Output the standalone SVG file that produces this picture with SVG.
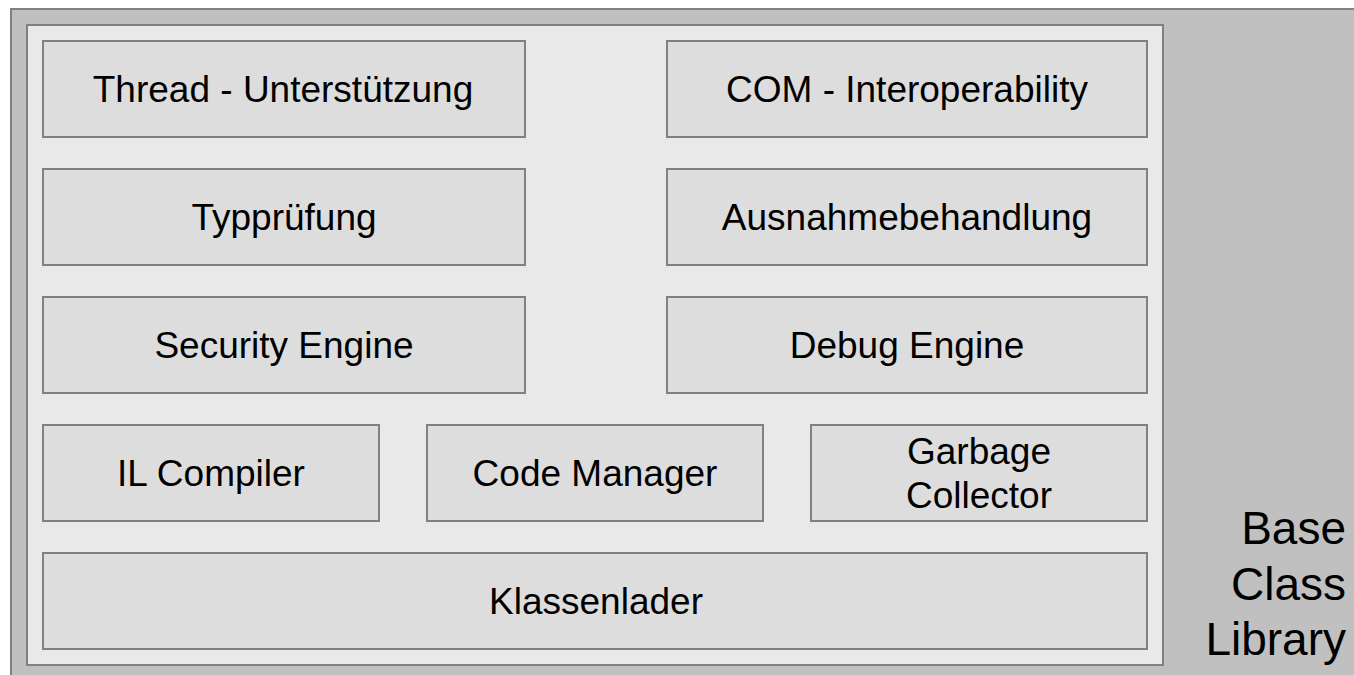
<svg xmlns="http://www.w3.org/2000/svg" width="1354" height="675" viewBox="0 0 1354 675">
<style>
.outer{fill:#c0c0c0;stroke:#808080;stroke-width:2}
.inner{fill:#e9e9e9;stroke:#808080;stroke-width:2}
.box{fill:#dddddd;stroke:#808080;stroke-width:2}
text{font-family:"Liberation Sans",Arial,sans-serif;fill:#000}
.lbl{font-size:37px;text-anchor:middle}
.bcl{font-size:46px;text-anchor:end}
</style>
<rect width="1354" height="675" fill="#ffffff"/>
<g id="base-class-library">
<rect class="outer" x="11" y="9" width="1360" height="700"/>
<text class="bcl" x="1346" y="544">Base</text>
<text class="bcl" x="1346" y="600">Class</text>
<text class="bcl" x="1346" y="655">Library</text>
</g>
<g id="clr">
<rect class="inner" x="27" y="25" width="1136" height="640"/>
</g>
<g id="thread"><rect class="box" x="43" y="41" width="482" height="96"/><text class="lbl" x="283" y="102">Thread - Unterstützung</text></g>
<g id="com"><rect class="box" x="667" y="41" width="480" height="96"/><text class="lbl" x="907" y="102">COM - Interoperability</text></g>
<g id="typ"><rect class="box" x="43" y="169" width="482" height="96"/><text class="lbl" x="284" y="230">Typprüfung</text></g>
<g id="ausnahme"><rect class="box" x="667" y="169" width="480" height="96"/><text class="lbl" x="907" y="230">Ausnahmebehandlung</text></g>
<g id="security"><rect class="box" x="43" y="297" width="482" height="96"/><text class="lbl" x="284" y="358">Security Engine</text></g>
<g id="debug"><rect class="box" x="667" y="297" width="480" height="96"/><text class="lbl" x="907" y="358">Debug Engine</text></g>
<g id="il"><rect class="box" x="43" y="425" width="336" height="96"/><text class="lbl" x="211" y="486">IL Compiler</text></g>
<g id="code"><rect class="box" x="427" y="425" width="336" height="96"/><text class="lbl" x="595" y="486">Code Manager</text></g>
<g id="gc"><rect class="box" x="811" y="425" width="336" height="96"/><text class="lbl" x="979" y="464">Garbage</text><text class="lbl" x="979" y="508">Collector</text></g>
<g id="klassenlader"><rect class="box" x="43" y="553" width="1104" height="96"/><text class="lbl" x="596" y="614">Klassenlader</text></g>
<g id="connectors"></g>
</svg>
